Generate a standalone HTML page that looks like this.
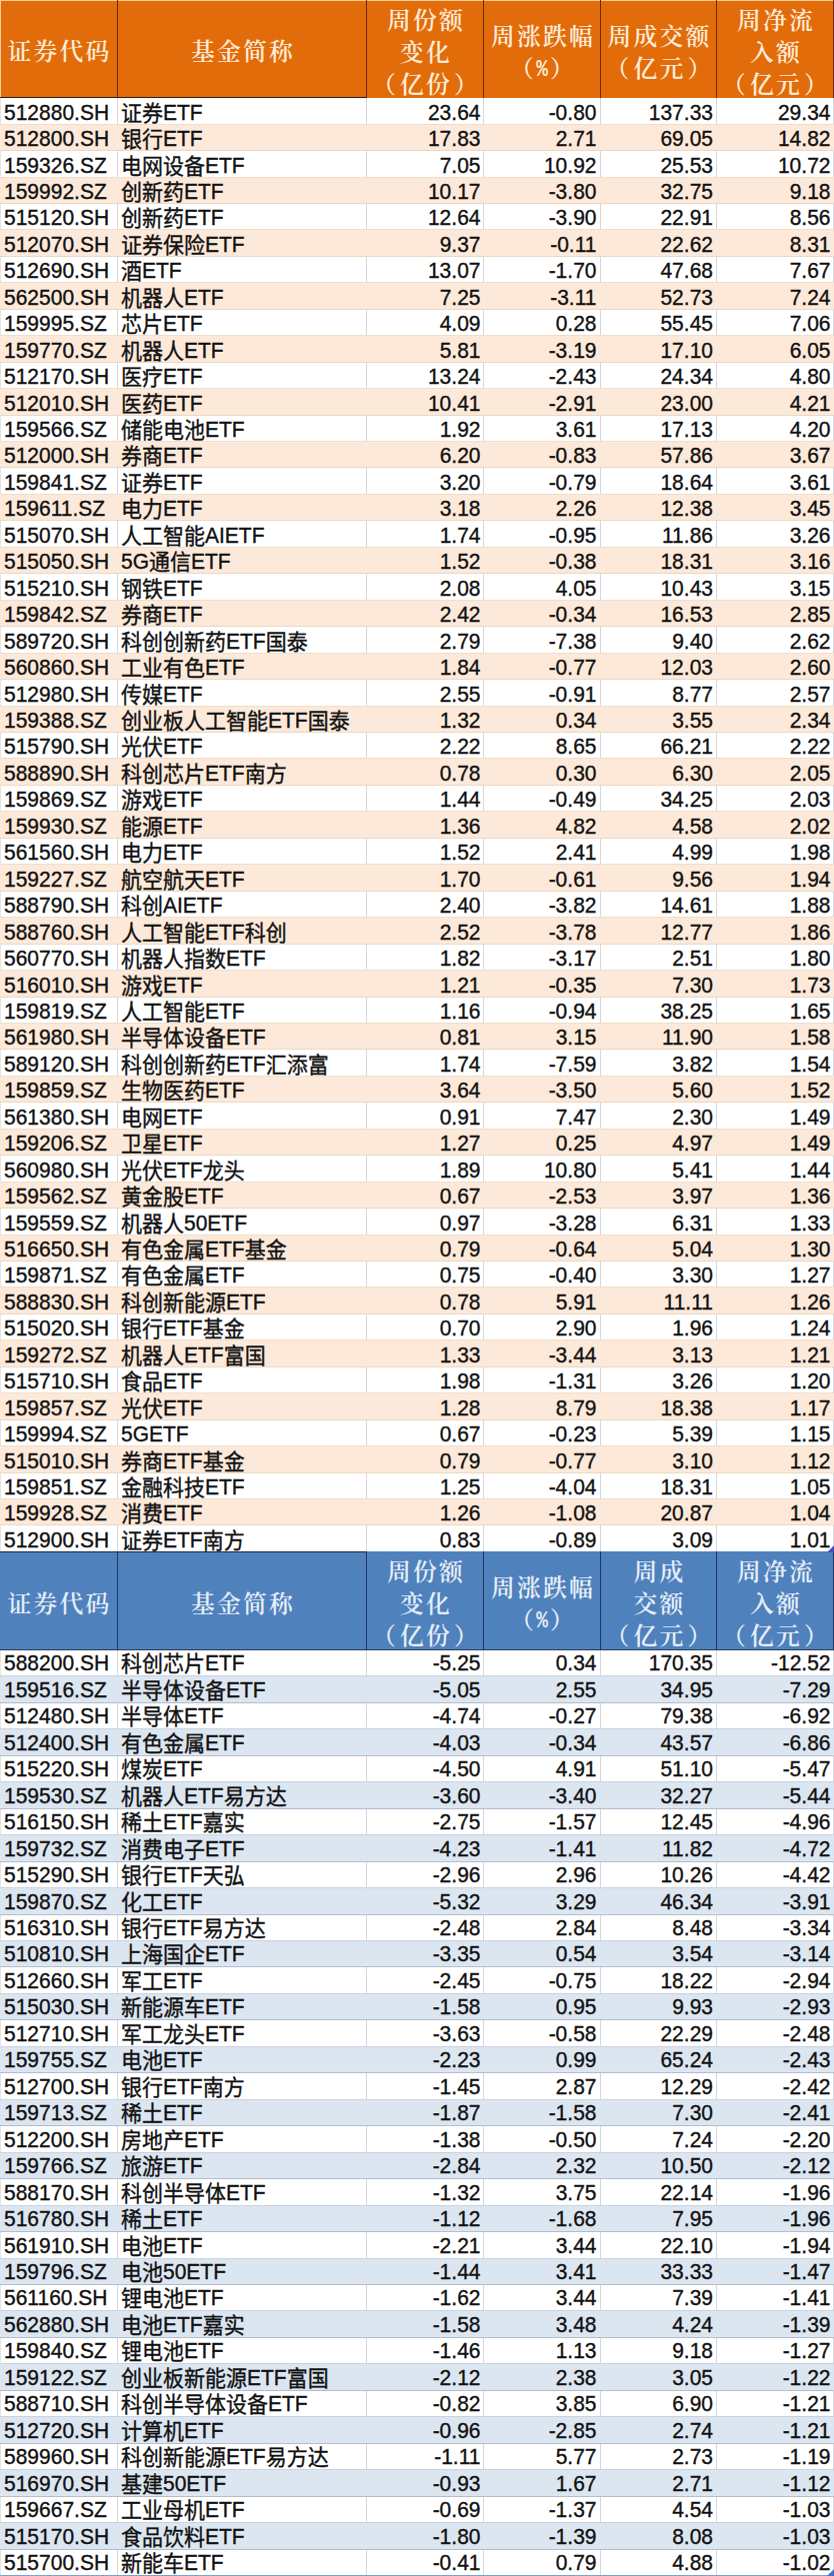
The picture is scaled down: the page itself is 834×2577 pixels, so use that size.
<!DOCTYPE html>
<html lang="zh-CN"><head><meta charset="utf-8"><title>ETF</title><style>
*{margin:0;padding:0;box-sizing:border-box}
html,body{width:834px;height:2577px;background:#fff;overflow:hidden}
body{position:relative;font-family:"Liberation Sans","Noto Sans CJK SC",sans-serif;font-size:21px;line-height:26px;color:#111}
.r{position:absolute;left:0;width:834px;display:flex;background:#fff;box-shadow:inset 1px 0 0 #e2e4ea}
.r.o{background:#fde9d9}
.r.b{background:#dce6f1}
.c{height:100%;white-space:nowrap;overflow:hidden;display:flex;align-items:center;border-right:1px solid #d8d6dc}
.r.o .c,.r.b .c{border-right-color:transparent}
.r.o{box-shadow:inset 0 1px 0 #eedfcb,inset 0 -1px 0 #e9d9c6}
.r.b{box-shadow:inset 0 1px 0 #c9d3e0,inset 0 -1px 0 #b3becd}
.r .c{padding-top:2px;-webkit-text-stroke:0.35px #111}
.r.u .c{padding-top:0}
.s{display:inline-block;transform:scaleY(1.055);transform-origin:50% 55%}
.z{position:relative;top:1px}
.c.t{justify-content:flex-start;padding-left:4px}
.c.t2{padding-left:3px}
.c.n{justify-content:flex-end;padding-right:2.5px}
.c.n3{padding-right:3.5px}.c.n4{padding-right:3px}
.h{position:absolute;left:0;width:834px;display:flex;font-family:"Noto Serif CJK SC","Liberation Serif",serif;font-size:23.8px;font-weight:600;line-height:32px;letter-spacing:2.2px;text-align:center}
.h .c{justify-content:center;padding-top:3px;border-right:1px solid #6b2a05;white-space:normal}
.p{font-family:"Liberation Mono",monospace;font-weight:bold;font-size:23px;line-height:0;display:inline-block;transform:scaleX(0.85);margin:0 -1px;position:relative;top:-1px}
.h .c span{display:block;padding-left:2.2px}.h .c span span{display:inline;padding:0}
.h .c span span.p{display:inline-block;margin:0 -1px}
.lp{margin-right:2px}.rp{margin-left:2px}
.h1{background:#e26b0a;color:#fdebd8;box-shadow:inset 1px 1px 0 #ffcc99}
.h1 .c:nth-child(-n+2){border-bottom:1px solid #3a1804}
.h2{background:#4f81bd;color:#e6eef7;border-bottom:1px solid #2a3f5c}
.h2 .c{border-right-color:#1f3560}
.h2 .c:nth-child(-n+2){border-top:1px solid #1c2a44}
.mk{position:absolute;width:0;height:0;border-left:7px solid transparent;border-bottom:7px solid #4b4db8}
.bl{position:absolute;left:0;top:2576px;width:834px;height:1px;background:#7f9fd4}
</style></head><body>
<div class="h h1" style="top:0px;height:98px"><div class="c" style="width:118px"><span>证券代码</span></div><div class="c" style="width:249px"><span>基金简称</span></div><div class="c" style="width:117px"><span>周份额<br>变化<br><span class="lp">（</span>亿份<span class="rp">）</span></span></div><div class="c" style="width:117px"><span>周涨跌幅<br>（<span class="p">%</span>）</span></div><div class="c" style="width:116px"><span>周成交额<br><span class="lp">（</span>亿元<span class="rp">）</span></span></div><div class="c" style="width:117px"><span>周净流<br>入额<br><span class="lp">（</span>亿元<span class="rp">）</span></span></div></div>
<div class="r " style="top:98px;height:27px"><div class="c t" style="width:118px"><span class="s">512880.SH</span></div><div class="c t t2" style="width:249px"><span class="s"><span class="z">证券</span>ETF</span></div><div class="c n n2" style="width:117px"><span class="s">23.64</span></div><div class="c n n3" style="width:117px"><span class="s">-0.80</span></div><div class="c n n4" style="width:116px"><span class="s">137.33</span></div><div class="c n n5" style="width:117px"><span class="s">29.34</span></div></div>
<div class="r  o" style="top:124px;height:27px;padding-top:1px"><div class="c t" style="width:118px"><span class="s">512800.SH</span></div><div class="c t t2" style="width:249px"><span class="s"><span class="z">银行</span>ETF</span></div><div class="c n n2" style="width:117px"><span class="s">17.83</span></div><div class="c n n3" style="width:117px"><span class="s">2.71</span></div><div class="c n n4" style="width:116px"><span class="s">69.05</span></div><div class="c n n5" style="width:117px"><span class="s">14.82</span></div></div>
<div class="r " style="top:151px;height:27px"><div class="c t" style="width:118px"><span class="s">159326.SZ</span></div><div class="c t t2" style="width:249px"><span class="s"><span class="z">电网设备</span>ETF</span></div><div class="c n n2" style="width:117px"><span class="s">7.05</span></div><div class="c n n3" style="width:117px"><span class="s">10.92</span></div><div class="c n n4" style="width:116px"><span class="s">25.53</span></div><div class="c n n5" style="width:117px"><span class="s">10.72</span></div></div>
<div class="r  o" style="top:177px;height:27px;padding-top:1px"><div class="c t" style="width:118px"><span class="s">159992.SZ</span></div><div class="c t t2" style="width:249px"><span class="s"><span class="z">创新药</span>ETF</span></div><div class="c n n2" style="width:117px"><span class="s">10.17</span></div><div class="c n n3" style="width:117px"><span class="s">-3.80</span></div><div class="c n n4" style="width:116px"><span class="s">32.75</span></div><div class="c n n5" style="width:117px"><span class="s">9.18</span></div></div>
<div class="r " style="top:204px;height:26px"><div class="c t" style="width:118px"><span class="s">515120.SH</span></div><div class="c t t2" style="width:249px"><span class="s"><span class="z">创新药</span>ETF</span></div><div class="c n n2" style="width:117px"><span class="s">12.64</span></div><div class="c n n3" style="width:117px"><span class="s">-3.90</span></div><div class="c n n4" style="width:116px"><span class="s">22.91</span></div><div class="c n n5" style="width:117px"><span class="s">8.56</span></div></div>
<div class="r  o" style="top:229px;height:28px;padding-top:1px"><div class="c t" style="width:118px"><span class="s">512070.SH</span></div><div class="c t t2" style="width:249px"><span class="s"><span class="z">证券保险</span>ETF</span></div><div class="c n n2" style="width:117px"><span class="s">9.37</span></div><div class="c n n3" style="width:117px"><span class="s">-0.11</span></div><div class="c n n4" style="width:116px"><span class="s">22.62</span></div><div class="c n n5" style="width:117px"><span class="s">8.31</span></div></div>
<div class="r " style="top:257px;height:26px"><div class="c t" style="width:118px"><span class="s">512690.SH</span></div><div class="c t t2" style="width:249px"><span class="s"><span class="z">酒</span>ETF</span></div><div class="c n n2" style="width:117px"><span class="s">13.07</span></div><div class="c n n3" style="width:117px"><span class="s">-1.70</span></div><div class="c n n4" style="width:116px"><span class="s">47.68</span></div><div class="c n n5" style="width:117px"><span class="s">7.67</span></div></div>
<div class="r  o" style="top:282px;height:28px;padding-top:1px"><div class="c t" style="width:118px"><span class="s">562500.SH</span></div><div class="c t t2" style="width:249px"><span class="s"><span class="z">机器人</span>ETF</span></div><div class="c n n2" style="width:117px"><span class="s">7.25</span></div><div class="c n n3" style="width:117px"><span class="s">-3.11</span></div><div class="c n n4" style="width:116px"><span class="s">52.73</span></div><div class="c n n5" style="width:117px"><span class="s">7.24</span></div></div>
<div class="r " style="top:310px;height:26px"><div class="c t" style="width:118px"><span class="s">159995.SZ</span></div><div class="c t t2" style="width:249px"><span class="s"><span class="z">芯片</span>ETF</span></div><div class="c n n2" style="width:117px"><span class="s">4.09</span></div><div class="c n n3" style="width:117px"><span class="s">0.28</span></div><div class="c n n4" style="width:116px"><span class="s">55.45</span></div><div class="c n n5" style="width:117px"><span class="s">7.06</span></div></div>
<div class="r  o" style="top:335px;height:28px;padding-top:1px"><div class="c t" style="width:118px"><span class="s">159770.SZ</span></div><div class="c t t2" style="width:249px"><span class="s"><span class="z">机器人</span>ETF</span></div><div class="c n n2" style="width:117px"><span class="s">5.81</span></div><div class="c n n3" style="width:117px"><span class="s">-3.19</span></div><div class="c n n4" style="width:116px"><span class="s">17.10</span></div><div class="c n n5" style="width:117px"><span class="s">6.05</span></div></div>
<div class="r " style="top:363px;height:26px"><div class="c t" style="width:118px"><span class="s">512170.SH</span></div><div class="c t t2" style="width:249px"><span class="s"><span class="z">医疗</span>ETF</span></div><div class="c n n2" style="width:117px"><span class="s">13.24</span></div><div class="c n n3" style="width:117px"><span class="s">-2.43</span></div><div class="c n n4" style="width:116px"><span class="s">24.34</span></div><div class="c n n5" style="width:117px"><span class="s">4.80</span></div></div>
<div class="r  o" style="top:388px;height:28px;padding-top:1px"><div class="c t" style="width:118px"><span class="s">512010.SH</span></div><div class="c t t2" style="width:249px"><span class="s"><span class="z">医药</span>ETF</span></div><div class="c n n2" style="width:117px"><span class="s">10.41</span></div><div class="c n n3" style="width:117px"><span class="s">-2.91</span></div><div class="c n n4" style="width:116px"><span class="s">23.00</span></div><div class="c n n5" style="width:117px"><span class="s">4.21</span></div></div>
<div class="r " style="top:416px;height:26px"><div class="c t" style="width:118px"><span class="s">159566.SZ</span></div><div class="c t t2" style="width:249px"><span class="s"><span class="z">储能电池</span>ETF</span></div><div class="c n n2" style="width:117px"><span class="s">1.92</span></div><div class="c n n3" style="width:117px"><span class="s">3.61</span></div><div class="c n n4" style="width:116px"><span class="s">17.13</span></div><div class="c n n5" style="width:117px"><span class="s">4.20</span></div></div>
<div class="r  o" style="top:441px;height:27px;padding-top:1px"><div class="c t" style="width:118px"><span class="s">512000.SH</span></div><div class="c t t2" style="width:249px"><span class="s"><span class="z">券商</span>ETF</span></div><div class="c n n2" style="width:117px"><span class="s">6.20</span></div><div class="c n n3" style="width:117px"><span class="s">-0.83</span></div><div class="c n n4" style="width:116px"><span class="s">57.86</span></div><div class="c n n5" style="width:117px"><span class="s">3.67</span></div></div>
<div class="r " style="top:468px;height:27px"><div class="c t" style="width:118px"><span class="s">159841.SZ</span></div><div class="c t t2" style="width:249px"><span class="s"><span class="z">证券</span>ETF</span></div><div class="c n n2" style="width:117px"><span class="s">3.20</span></div><div class="c n n3" style="width:117px"><span class="s">-0.79</span></div><div class="c n n4" style="width:116px"><span class="s">18.64</span></div><div class="c n n5" style="width:117px"><span class="s">3.61</span></div></div>
<div class="r  o" style="top:494px;height:27px;padding-top:1px"><div class="c t" style="width:118px"><span class="s">159611.SZ</span></div><div class="c t t2" style="width:249px"><span class="s"><span class="z">电力</span>ETF</span></div><div class="c n n2" style="width:117px"><span class="s">3.18</span></div><div class="c n n3" style="width:117px"><span class="s">2.26</span></div><div class="c n n4" style="width:116px"><span class="s">12.38</span></div><div class="c n n5" style="width:117px"><span class="s">3.45</span></div></div>
<div class="r " style="top:521px;height:27px"><div class="c t" style="width:118px"><span class="s">515070.SH</span></div><div class="c t t2" style="width:249px"><span class="s"><span class="z">人工智能</span>AIETF</span></div><div class="c n n2" style="width:117px"><span class="s">1.74</span></div><div class="c n n3" style="width:117px"><span class="s">-0.95</span></div><div class="c n n4" style="width:116px"><span class="s">11.86</span></div><div class="c n n5" style="width:117px"><span class="s">3.26</span></div></div>
<div class="r  o" style="top:547px;height:27px;padding-top:1px"><div class="c t" style="width:118px"><span class="s">515050.SH</span></div><div class="c t t2" style="width:249px"><span class="s">5G<span class="z">通信</span>ETF</span></div><div class="c n n2" style="width:117px"><span class="s">1.52</span></div><div class="c n n3" style="width:117px"><span class="s">-0.38</span></div><div class="c n n4" style="width:116px"><span class="s">18.31</span></div><div class="c n n5" style="width:117px"><span class="s">3.16</span></div></div>
<div class="r " style="top:574px;height:27px"><div class="c t" style="width:118px"><span class="s">515210.SH</span></div><div class="c t t2" style="width:249px"><span class="s"><span class="z">钢铁</span>ETF</span></div><div class="c n n2" style="width:117px"><span class="s">2.08</span></div><div class="c n n3" style="width:117px"><span class="s">4.05</span></div><div class="c n n4" style="width:116px"><span class="s">10.43</span></div><div class="c n n5" style="width:117px"><span class="s">3.15</span></div></div>
<div class="r  o" style="top:600px;height:27px;padding-top:1px"><div class="c t" style="width:118px"><span class="s">159842.SZ</span></div><div class="c t t2" style="width:249px"><span class="s"><span class="z">券商</span>ETF</span></div><div class="c n n2" style="width:117px"><span class="s">2.42</span></div><div class="c n n3" style="width:117px"><span class="s">-0.34</span></div><div class="c n n4" style="width:116px"><span class="s">16.53</span></div><div class="c n n5" style="width:117px"><span class="s">2.85</span></div></div>
<div class="r " style="top:627px;height:27px"><div class="c t" style="width:118px"><span class="s">589720.SH</span></div><div class="c t t2" style="width:249px"><span class="s"><span class="z">科创创新药</span>ETF<span class="z">国泰</span></span></div><div class="c n n2" style="width:117px"><span class="s">2.79</span></div><div class="c n n3" style="width:117px"><span class="s">-7.38</span></div><div class="c n n4" style="width:116px"><span class="s">9.40</span></div><div class="c n n5" style="width:117px"><span class="s">2.62</span></div></div>
<div class="r  o" style="top:653px;height:27px;padding-top:1px"><div class="c t" style="width:118px"><span class="s">560860.SH</span></div><div class="c t t2" style="width:249px"><span class="s"><span class="z">工业有色</span>ETF</span></div><div class="c n n2" style="width:117px"><span class="s">1.84</span></div><div class="c n n3" style="width:117px"><span class="s">-0.77</span></div><div class="c n n4" style="width:116px"><span class="s">12.03</span></div><div class="c n n5" style="width:117px"><span class="s">2.60</span></div></div>
<div class="r " style="top:680px;height:27px"><div class="c t" style="width:118px"><span class="s">512980.SH</span></div><div class="c t t2" style="width:249px"><span class="s"><span class="z">传媒</span>ETF</span></div><div class="c n n2" style="width:117px"><span class="s">2.55</span></div><div class="c n n3" style="width:117px"><span class="s">-0.91</span></div><div class="c n n4" style="width:116px"><span class="s">8.77</span></div><div class="c n n5" style="width:117px"><span class="s">2.57</span></div></div>
<div class="r  o" style="top:706px;height:27px;padding-top:1px"><div class="c t" style="width:118px"><span class="s">159388.SZ</span></div><div class="c t t2" style="width:249px"><span class="s"><span class="z">创业板人工智能</span>ETF<span class="z">国泰</span></span></div><div class="c n n2" style="width:117px"><span class="s">1.32</span></div><div class="c n n3" style="width:117px"><span class="s">0.34</span></div><div class="c n n4" style="width:116px"><span class="s">3.55</span></div><div class="c n n5" style="width:117px"><span class="s">2.34</span></div></div>
<div class="r " style="top:733px;height:26px"><div class="c t" style="width:118px"><span class="s">515790.SH</span></div><div class="c t t2" style="width:249px"><span class="s"><span class="z">光伏</span>ETF</span></div><div class="c n n2" style="width:117px"><span class="s">2.22</span></div><div class="c n n3" style="width:117px"><span class="s">8.65</span></div><div class="c n n4" style="width:116px"><span class="s">66.21</span></div><div class="c n n5" style="width:117px"><span class="s">2.22</span></div></div>
<div class="r  o" style="top:758px;height:28px;padding-top:1px"><div class="c t" style="width:118px"><span class="s">588890.SH</span></div><div class="c t t2" style="width:249px"><span class="s"><span class="z">科创芯片</span>ETF<span class="z">南方</span></span></div><div class="c n n2" style="width:117px"><span class="s">0.78</span></div><div class="c n n3" style="width:117px"><span class="s">0.30</span></div><div class="c n n4" style="width:116px"><span class="s">6.30</span></div><div class="c n n5" style="width:117px"><span class="s">2.05</span></div></div>
<div class="r " style="top:786px;height:26px"><div class="c t" style="width:118px"><span class="s">159869.SZ</span></div><div class="c t t2" style="width:249px"><span class="s"><span class="z">游戏</span>ETF</span></div><div class="c n n2" style="width:117px"><span class="s">1.44</span></div><div class="c n n3" style="width:117px"><span class="s">-0.49</span></div><div class="c n n4" style="width:116px"><span class="s">34.25</span></div><div class="c n n5" style="width:117px"><span class="s">2.03</span></div></div>
<div class="r  o" style="top:811px;height:28px;padding-top:1px"><div class="c t" style="width:118px"><span class="s">159930.SZ</span></div><div class="c t t2" style="width:249px"><span class="s"><span class="z">能源</span>ETF</span></div><div class="c n n2" style="width:117px"><span class="s">1.36</span></div><div class="c n n3" style="width:117px"><span class="s">4.82</span></div><div class="c n n4" style="width:116px"><span class="s">4.58</span></div><div class="c n n5" style="width:117px"><span class="s">2.02</span></div></div>
<div class="r " style="top:839px;height:26px"><div class="c t" style="width:118px"><span class="s">561560.SH</span></div><div class="c t t2" style="width:249px"><span class="s"><span class="z">电力</span>ETF</span></div><div class="c n n2" style="width:117px"><span class="s">1.52</span></div><div class="c n n3" style="width:117px"><span class="s">2.41</span></div><div class="c n n4" style="width:116px"><span class="s">4.99</span></div><div class="c n n5" style="width:117px"><span class="s">1.98</span></div></div>
<div class="r  o" style="top:864px;height:28px;padding-top:1px"><div class="c t" style="width:118px"><span class="s">159227.SZ</span></div><div class="c t t2" style="width:249px"><span class="s"><span class="z">航空航天</span>ETF</span></div><div class="c n n2" style="width:117px"><span class="s">1.70</span></div><div class="c n n3" style="width:117px"><span class="s">-0.61</span></div><div class="c n n4" style="width:116px"><span class="s">9.56</span></div><div class="c n n5" style="width:117px"><span class="s">1.94</span></div></div>
<div class="r " style="top:892px;height:26px"><div class="c t" style="width:118px"><span class="s">588790.SH</span></div><div class="c t t2" style="width:249px"><span class="s"><span class="z">科创</span>AIETF</span></div><div class="c n n2" style="width:117px"><span class="s">2.40</span></div><div class="c n n3" style="width:117px"><span class="s">-3.82</span></div><div class="c n n4" style="width:116px"><span class="s">14.61</span></div><div class="c n n5" style="width:117px"><span class="s">1.88</span></div></div>
<div class="r  o" style="top:917px;height:28px;padding-top:1px"><div class="c t" style="width:118px"><span class="s">588760.SH</span></div><div class="c t t2" style="width:249px"><span class="s"><span class="z">人工智能</span>ETF<span class="z">科创</span></span></div><div class="c n n2" style="width:117px"><span class="s">2.52</span></div><div class="c n n3" style="width:117px"><span class="s">-3.78</span></div><div class="c n n4" style="width:116px"><span class="s">12.77</span></div><div class="c n n5" style="width:117px"><span class="s">1.86</span></div></div>
<div class="r " style="top:945px;height:26px"><div class="c t" style="width:118px"><span class="s">560770.SH</span></div><div class="c t t2" style="width:249px"><span class="s"><span class="z">机器人指数</span>ETF</span></div><div class="c n n2" style="width:117px"><span class="s">1.82</span></div><div class="c n n3" style="width:117px"><span class="s">-3.17</span></div><div class="c n n4" style="width:116px"><span class="s">2.51</span></div><div class="c n n5" style="width:117px"><span class="s">1.80</span></div></div>
<div class="r  o" style="top:970px;height:28px;padding-top:1px"><div class="c t" style="width:118px"><span class="s">516010.SH</span></div><div class="c t t2" style="width:249px"><span class="s"><span class="z">游戏</span>ETF</span></div><div class="c n n2" style="width:117px"><span class="s">1.21</span></div><div class="c n n3" style="width:117px"><span class="s">-0.35</span></div><div class="c n n4" style="width:116px"><span class="s">7.30</span></div><div class="c n n5" style="width:117px"><span class="s">1.73</span></div></div>
<div class="r " style="top:998px;height:26px"><div class="c t" style="width:118px"><span class="s">159819.SZ</span></div><div class="c t t2" style="width:249px"><span class="s"><span class="z">人工智能</span>ETF</span></div><div class="c n n2" style="width:117px"><span class="s">1.16</span></div><div class="c n n3" style="width:117px"><span class="s">-0.94</span></div><div class="c n n4" style="width:116px"><span class="s">38.25</span></div><div class="c n n5" style="width:117px"><span class="s">1.65</span></div></div>
<div class="r  o" style="top:1023px;height:27px;padding-top:1px"><div class="c t" style="width:118px"><span class="s">561980.SH</span></div><div class="c t t2" style="width:249px"><span class="s"><span class="z">半导体设备</span>ETF</span></div><div class="c n n2" style="width:117px"><span class="s">0.81</span></div><div class="c n n3" style="width:117px"><span class="s">3.15</span></div><div class="c n n4" style="width:116px"><span class="s">11.90</span></div><div class="c n n5" style="width:117px"><span class="s">1.58</span></div></div>
<div class="r " style="top:1050px;height:27px"><div class="c t" style="width:118px"><span class="s">589120.SH</span></div><div class="c t t2" style="width:249px"><span class="s"><span class="z">科创创新药</span>ETF<span class="z">汇添富</span></span></div><div class="c n n2" style="width:117px"><span class="s">1.74</span></div><div class="c n n3" style="width:117px"><span class="s">-7.59</span></div><div class="c n n4" style="width:116px"><span class="s">3.82</span></div><div class="c n n5" style="width:117px"><span class="s">1.54</span></div></div>
<div class="r  o" style="top:1076px;height:27px;padding-top:1px"><div class="c t" style="width:118px"><span class="s">159859.SZ</span></div><div class="c t t2" style="width:249px"><span class="s"><span class="z">生物医药</span>ETF</span></div><div class="c n n2" style="width:117px"><span class="s">3.64</span></div><div class="c n n3" style="width:117px"><span class="s">-3.50</span></div><div class="c n n4" style="width:116px"><span class="s">5.60</span></div><div class="c n n5" style="width:117px"><span class="s">1.52</span></div></div>
<div class="r " style="top:1103px;height:27px"><div class="c t" style="width:118px"><span class="s">561380.SH</span></div><div class="c t t2" style="width:249px"><span class="s"><span class="z">电网</span>ETF</span></div><div class="c n n2" style="width:117px"><span class="s">0.91</span></div><div class="c n n3" style="width:117px"><span class="s">7.47</span></div><div class="c n n4" style="width:116px"><span class="s">2.30</span></div><div class="c n n5" style="width:117px"><span class="s">1.49</span></div></div>
<div class="r  o" style="top:1129px;height:27px;padding-top:1px"><div class="c t" style="width:118px"><span class="s">159206.SZ</span></div><div class="c t t2" style="width:249px"><span class="s"><span class="z">卫星</span>ETF</span></div><div class="c n n2" style="width:117px"><span class="s">1.27</span></div><div class="c n n3" style="width:117px"><span class="s">0.25</span></div><div class="c n n4" style="width:116px"><span class="s">4.97</span></div><div class="c n n5" style="width:117px"><span class="s">1.49</span></div></div>
<div class="r " style="top:1156px;height:27px"><div class="c t" style="width:118px"><span class="s">560980.SH</span></div><div class="c t t2" style="width:249px"><span class="s"><span class="z">光伏</span>ETF<span class="z">龙头</span></span></div><div class="c n n2" style="width:117px"><span class="s">1.89</span></div><div class="c n n3" style="width:117px"><span class="s">10.80</span></div><div class="c n n4" style="width:116px"><span class="s">5.41</span></div><div class="c n n5" style="width:117px"><span class="s">1.44</span></div></div>
<div class="r  o" style="top:1182px;height:27px;padding-top:1px"><div class="c t" style="width:118px"><span class="s">159562.SZ</span></div><div class="c t t2" style="width:249px"><span class="s"><span class="z">黄金股</span>ETF</span></div><div class="c n n2" style="width:117px"><span class="s">0.67</span></div><div class="c n n3" style="width:117px"><span class="s">-2.53</span></div><div class="c n n4" style="width:116px"><span class="s">3.97</span></div><div class="c n n5" style="width:117px"><span class="s">1.36</span></div></div>
<div class="r " style="top:1209px;height:27px"><div class="c t" style="width:118px"><span class="s">159559.SZ</span></div><div class="c t t2" style="width:249px"><span class="s"><span class="z">机器人</span>50ETF</span></div><div class="c n n2" style="width:117px"><span class="s">0.97</span></div><div class="c n n3" style="width:117px"><span class="s">-3.28</span></div><div class="c n n4" style="width:116px"><span class="s">6.31</span></div><div class="c n n5" style="width:117px"><span class="s">1.33</span></div></div>
<div class="r  o" style="top:1235px;height:27px;padding-top:1px"><div class="c t" style="width:118px"><span class="s">516650.SH</span></div><div class="c t t2" style="width:249px"><span class="s"><span class="z">有色金属</span>ETF<span class="z">基金</span></span></div><div class="c n n2" style="width:117px"><span class="s">0.79</span></div><div class="c n n3" style="width:117px"><span class="s">-0.64</span></div><div class="c n n4" style="width:116px"><span class="s">5.04</span></div><div class="c n n5" style="width:117px"><span class="s">1.30</span></div></div>
<div class="r " style="top:1262px;height:26px"><div class="c t" style="width:118px"><span class="s">159871.SZ</span></div><div class="c t t2" style="width:249px"><span class="s"><span class="z">有色金属</span>ETF</span></div><div class="c n n2" style="width:117px"><span class="s">0.75</span></div><div class="c n n3" style="width:117px"><span class="s">-0.40</span></div><div class="c n n4" style="width:116px"><span class="s">3.30</span></div><div class="c n n5" style="width:117px"><span class="s">1.27</span></div></div>
<div class="r  o" style="top:1287px;height:28px;padding-top:1px"><div class="c t" style="width:118px"><span class="s">588830.SH</span></div><div class="c t t2" style="width:249px"><span class="s"><span class="z">科创新能源</span>ETF</span></div><div class="c n n2" style="width:117px"><span class="s">0.78</span></div><div class="c n n3" style="width:117px"><span class="s">5.91</span></div><div class="c n n4" style="width:116px"><span class="s">11.11</span></div><div class="c n n5" style="width:117px"><span class="s">1.26</span></div></div>
<div class="r " style="top:1315px;height:26px"><div class="c t" style="width:118px"><span class="s">515020.SH</span></div><div class="c t t2" style="width:249px"><span class="s"><span class="z">银行</span>ETF<span class="z">基金</span></span></div><div class="c n n2" style="width:117px"><span class="s">0.70</span></div><div class="c n n3" style="width:117px"><span class="s">2.90</span></div><div class="c n n4" style="width:116px"><span class="s">1.96</span></div><div class="c n n5" style="width:117px"><span class="s">1.24</span></div></div>
<div class="r  o" style="top:1340px;height:28px;padding-top:1px"><div class="c t" style="width:118px"><span class="s">159272.SZ</span></div><div class="c t t2" style="width:249px"><span class="s"><span class="z">机器人</span>ETF<span class="z">富国</span></span></div><div class="c n n2" style="width:117px"><span class="s">1.33</span></div><div class="c n n3" style="width:117px"><span class="s">-3.44</span></div><div class="c n n4" style="width:116px"><span class="s">3.13</span></div><div class="c n n5" style="width:117px"><span class="s">1.21</span></div></div>
<div class="r " style="top:1368px;height:26px"><div class="c t" style="width:118px"><span class="s">515710.SH</span></div><div class="c t t2" style="width:249px"><span class="s"><span class="z">食品</span>ETF</span></div><div class="c n n2" style="width:117px"><span class="s">1.98</span></div><div class="c n n3" style="width:117px"><span class="s">-1.31</span></div><div class="c n n4" style="width:116px"><span class="s">3.26</span></div><div class="c n n5" style="width:117px"><span class="s">1.20</span></div></div>
<div class="r  o" style="top:1393px;height:28px;padding-top:1px"><div class="c t" style="width:118px"><span class="s">159857.SZ</span></div><div class="c t t2" style="width:249px"><span class="s"><span class="z">光伏</span>ETF</span></div><div class="c n n2" style="width:117px"><span class="s">1.28</span></div><div class="c n n3" style="width:117px"><span class="s">8.79</span></div><div class="c n n4" style="width:116px"><span class="s">18.38</span></div><div class="c n n5" style="width:117px"><span class="s">1.17</span></div></div>
<div class="r " style="top:1421px;height:26px"><div class="c t" style="width:118px"><span class="s">159994.SZ</span></div><div class="c t t2" style="width:249px"><span class="s">5GETF</span></div><div class="c n n2" style="width:117px"><span class="s">0.67</span></div><div class="c n n3" style="width:117px"><span class="s">-0.23</span></div><div class="c n n4" style="width:116px"><span class="s">5.39</span></div><div class="c n n5" style="width:117px"><span class="s">1.15</span></div></div>
<div class="r  o" style="top:1446px;height:28px;padding-top:1px"><div class="c t" style="width:118px"><span class="s">515010.SH</span></div><div class="c t t2" style="width:249px"><span class="s"><span class="z">券商</span>ETF<span class="z">基金</span></span></div><div class="c n n2" style="width:117px"><span class="s">0.79</span></div><div class="c n n3" style="width:117px"><span class="s">-0.77</span></div><div class="c n n4" style="width:116px"><span class="s">3.10</span></div><div class="c n n5" style="width:117px"><span class="s">1.12</span></div></div>
<div class="r " style="top:1474px;height:26px"><div class="c t" style="width:118px"><span class="s">159851.SZ</span></div><div class="c t t2" style="width:249px"><span class="s"><span class="z">金融科技</span>ETF</span></div><div class="c n n2" style="width:117px"><span class="s">1.25</span></div><div class="c n n3" style="width:117px"><span class="s">-4.04</span></div><div class="c n n4" style="width:116px"><span class="s">18.31</span></div><div class="c n n5" style="width:117px"><span class="s">1.05</span></div></div>
<div class="r  o" style="top:1499px;height:27px;padding-top:1px"><div class="c t" style="width:118px"><span class="s">159928.SZ</span></div><div class="c t t2" style="width:249px"><span class="s"><span class="z">消费</span>ETF</span></div><div class="c n n2" style="width:117px"><span class="s">1.26</span></div><div class="c n n3" style="width:117px"><span class="s">-1.08</span></div><div class="c n n4" style="width:116px"><span class="s">20.87</span></div><div class="c n n5" style="width:117px"><span class="s">1.04</span></div></div>
<div class="r " style="top:1526px;height:27px"><div class="c t" style="width:118px"><span class="s">512900.SH</span></div><div class="c t t2" style="width:249px"><span class="s"><span class="z">证券</span>ETF<span class="z">南方</span></span></div><div class="c n n2" style="width:117px"><span class="s">0.83</span></div><div class="c n n3" style="width:117px"><span class="s">-0.89</span></div><div class="c n n4" style="width:116px"><span class="s">3.09</span></div><div class="c n n5" style="width:117px"><span class="s">1.01</span></div></div>
<div class="h h2" style="top:1552px;height:99px"><div class="c" style="width:118px"><span>证券代码</span></div><div class="c" style="width:249px"><span>基金简称</span></div><div class="c" style="width:117px"><span>周份额<br>变化<br><span class="lp">（</span>亿份<span class="rp">）</span></span></div><div class="c" style="width:117px"><span>周涨跌幅<br>（<span class="p">%</span>）</span></div><div class="c" style="width:116px"><span>周成<br>交额<br><span class="lp">（</span>亿元<span class="rp">）</span></span></div><div class="c" style="width:117px"><span>周净流<br>入额<br><span class="lp">（</span>亿元<span class="rp">）</span></span></div></div>
<div class="r u" style="top:1651px;height:26px"><div class="c t" style="width:118px"><span class="s">588200.SH</span></div><div class="c t t2" style="width:249px"><span class="s"><span class="z">科创芯片</span>ETF</span></div><div class="c n n2" style="width:117px"><span class="s">-5.25</span></div><div class="c n n3" style="width:117px"><span class="s">0.34</span></div><div class="c n n4" style="width:116px"><span class="s">170.35</span></div><div class="c n n5" style="width:117px"><span class="s">-12.52</span></div></div>
<div class="r u b" style="top:1676px;height:28px;padding-top:1px"><div class="c t" style="width:118px"><span class="s">159516.SZ</span></div><div class="c t t2" style="width:249px"><span class="s"><span class="z">半导体设备</span>ETF</span></div><div class="c n n2" style="width:117px"><span class="s">-5.05</span></div><div class="c n n3" style="width:117px"><span class="s">2.55</span></div><div class="c n n4" style="width:116px"><span class="s">34.95</span></div><div class="c n n5" style="width:117px"><span class="s">-7.29</span></div></div>
<div class="r u" style="top:1704px;height:26px"><div class="c t" style="width:118px"><span class="s">512480.SH</span></div><div class="c t t2" style="width:249px"><span class="s"><span class="z">半导体</span>ETF</span></div><div class="c n n2" style="width:117px"><span class="s">-4.74</span></div><div class="c n n3" style="width:117px"><span class="s">-0.27</span></div><div class="c n n4" style="width:116px"><span class="s">79.38</span></div><div class="c n n5" style="width:117px"><span class="s">-6.92</span></div></div>
<div class="r u b" style="top:1729px;height:28px;padding-top:1px"><div class="c t" style="width:118px"><span class="s">512400.SH</span></div><div class="c t t2" style="width:249px"><span class="s"><span class="z">有色金属</span>ETF</span></div><div class="c n n2" style="width:117px"><span class="s">-4.03</span></div><div class="c n n3" style="width:117px"><span class="s">-0.34</span></div><div class="c n n4" style="width:116px"><span class="s">43.57</span></div><div class="c n n5" style="width:117px"><span class="s">-6.86</span></div></div>
<div class="r u" style="top:1757px;height:26px"><div class="c t" style="width:118px"><span class="s">515220.SH</span></div><div class="c t t2" style="width:249px"><span class="s"><span class="z">煤炭</span>ETF</span></div><div class="c n n2" style="width:117px"><span class="s">-4.50</span></div><div class="c n n3" style="width:117px"><span class="s">4.91</span></div><div class="c n n4" style="width:116px"><span class="s">51.10</span></div><div class="c n n5" style="width:117px"><span class="s">-5.47</span></div></div>
<div class="r u b" style="top:1782px;height:28px;padding-top:1px"><div class="c t" style="width:118px"><span class="s">159530.SZ</span></div><div class="c t t2" style="width:249px"><span class="s"><span class="z">机器人</span>ETF<span class="z">易方达</span></span></div><div class="c n n2" style="width:117px"><span class="s">-3.60</span></div><div class="c n n3" style="width:117px"><span class="s">-3.40</span></div><div class="c n n4" style="width:116px"><span class="s">32.27</span></div><div class="c n n5" style="width:117px"><span class="s">-5.44</span></div></div>
<div class="r u" style="top:1810px;height:26px"><div class="c t" style="width:118px"><span class="s">516150.SH</span></div><div class="c t t2" style="width:249px"><span class="s"><span class="z">稀土</span>ETF<span class="z">嘉实</span></span></div><div class="c n n2" style="width:117px"><span class="s">-2.75</span></div><div class="c n n3" style="width:117px"><span class="s">-1.57</span></div><div class="c n n4" style="width:116px"><span class="s">12.45</span></div><div class="c n n5" style="width:117px"><span class="s">-4.96</span></div></div>
<div class="r u b" style="top:1835px;height:28px;padding-top:1px"><div class="c t" style="width:118px"><span class="s">159732.SZ</span></div><div class="c t t2" style="width:249px"><span class="s"><span class="z">消费电子</span>ETF</span></div><div class="c n n2" style="width:117px"><span class="s">-4.23</span></div><div class="c n n3" style="width:117px"><span class="s">-1.41</span></div><div class="c n n4" style="width:116px"><span class="s">11.82</span></div><div class="c n n5" style="width:117px"><span class="s">-4.72</span></div></div>
<div class="r u" style="top:1863px;height:26px"><div class="c t" style="width:118px"><span class="s">515290.SH</span></div><div class="c t t2" style="width:249px"><span class="s"><span class="z">银行</span>ETF<span class="z">天弘</span></span></div><div class="c n n2" style="width:117px"><span class="s">-2.96</span></div><div class="c n n3" style="width:117px"><span class="s">2.96</span></div><div class="c n n4" style="width:116px"><span class="s">10.26</span></div><div class="c n n5" style="width:117px"><span class="s">-4.42</span></div></div>
<div class="r u b" style="top:1888px;height:28px;padding-top:1px"><div class="c t" style="width:118px"><span class="s">159870.SZ</span></div><div class="c t t2" style="width:249px"><span class="s"><span class="z">化工</span>ETF</span></div><div class="c n n2" style="width:117px"><span class="s">-5.32</span></div><div class="c n n3" style="width:117px"><span class="s">3.29</span></div><div class="c n n4" style="width:116px"><span class="s">46.34</span></div><div class="c n n5" style="width:117px"><span class="s">-3.91</span></div></div>
<div class="r u" style="top:1916px;height:26px"><div class="c t" style="width:118px"><span class="s">516310.SH</span></div><div class="c t t2" style="width:249px"><span class="s"><span class="z">银行</span>ETF<span class="z">易方达</span></span></div><div class="c n n2" style="width:117px"><span class="s">-2.48</span></div><div class="c n n3" style="width:117px"><span class="s">2.84</span></div><div class="c n n4" style="width:116px"><span class="s">8.48</span></div><div class="c n n5" style="width:117px"><span class="s">-3.34</span></div></div>
<div class="r u b" style="top:1941px;height:27px;padding-top:1px"><div class="c t" style="width:118px"><span class="s">510810.SH</span></div><div class="c t t2" style="width:249px"><span class="s"><span class="z">上海国企</span>ETF</span></div><div class="c n n2" style="width:117px"><span class="s">-3.35</span></div><div class="c n n3" style="width:117px"><span class="s">0.54</span></div><div class="c n n4" style="width:116px"><span class="s">3.54</span></div><div class="c n n5" style="width:117px"><span class="s">-3.14</span></div></div>
<div class="r u" style="top:1968px;height:27px"><div class="c t" style="width:118px"><span class="s">512660.SH</span></div><div class="c t t2" style="width:249px"><span class="s"><span class="z">军工</span>ETF</span></div><div class="c n n2" style="width:117px"><span class="s">-2.45</span></div><div class="c n n3" style="width:117px"><span class="s">-0.75</span></div><div class="c n n4" style="width:116px"><span class="s">18.22</span></div><div class="c n n5" style="width:117px"><span class="s">-2.94</span></div></div>
<div class="r u b" style="top:1994px;height:27px;padding-top:1px"><div class="c t" style="width:118px"><span class="s">515030.SH</span></div><div class="c t t2" style="width:249px"><span class="s"><span class="z">新能源车</span>ETF</span></div><div class="c n n2" style="width:117px"><span class="s">-1.58</span></div><div class="c n n3" style="width:117px"><span class="s">0.95</span></div><div class="c n n4" style="width:116px"><span class="s">9.93</span></div><div class="c n n5" style="width:117px"><span class="s">-2.93</span></div></div>
<div class="r u" style="top:2021px;height:27px"><div class="c t" style="width:118px"><span class="s">512710.SH</span></div><div class="c t t2" style="width:249px"><span class="s"><span class="z">军工龙头</span>ETF</span></div><div class="c n n2" style="width:117px"><span class="s">-3.63</span></div><div class="c n n3" style="width:117px"><span class="s">-0.58</span></div><div class="c n n4" style="width:116px"><span class="s">22.29</span></div><div class="c n n5" style="width:117px"><span class="s">-2.48</span></div></div>
<div class="r u b" style="top:2047px;height:27px;padding-top:1px"><div class="c t" style="width:118px"><span class="s">159755.SZ</span></div><div class="c t t2" style="width:249px"><span class="s"><span class="z">电池</span>ETF</span></div><div class="c n n2" style="width:117px"><span class="s">-2.23</span></div><div class="c n n3" style="width:117px"><span class="s">0.99</span></div><div class="c n n4" style="width:116px"><span class="s">65.24</span></div><div class="c n n5" style="width:117px"><span class="s">-2.43</span></div></div>
<div class="r u" style="top:2074px;height:27px"><div class="c t" style="width:118px"><span class="s">512700.SH</span></div><div class="c t t2" style="width:249px"><span class="s"><span class="z">银行</span>ETF<span class="z">南方</span></span></div><div class="c n n2" style="width:117px"><span class="s">-1.45</span></div><div class="c n n3" style="width:117px"><span class="s">2.87</span></div><div class="c n n4" style="width:116px"><span class="s">12.29</span></div><div class="c n n5" style="width:117px"><span class="s">-2.42</span></div></div>
<div class="r u b" style="top:2100px;height:27px;padding-top:1px"><div class="c t" style="width:118px"><span class="s">159713.SZ</span></div><div class="c t t2" style="width:249px"><span class="s"><span class="z">稀土</span>ETF</span></div><div class="c n n2" style="width:117px"><span class="s">-1.87</span></div><div class="c n n3" style="width:117px"><span class="s">-1.58</span></div><div class="c n n4" style="width:116px"><span class="s">7.30</span></div><div class="c n n5" style="width:117px"><span class="s">-2.41</span></div></div>
<div class="r u" style="top:2127px;height:27px"><div class="c t" style="width:118px"><span class="s">512200.SH</span></div><div class="c t t2" style="width:249px"><span class="s"><span class="z">房地产</span>ETF</span></div><div class="c n n2" style="width:117px"><span class="s">-1.38</span></div><div class="c n n3" style="width:117px"><span class="s">-0.50</span></div><div class="c n n4" style="width:116px"><span class="s">7.24</span></div><div class="c n n5" style="width:117px"><span class="s">-2.20</span></div></div>
<div class="r u b" style="top:2153px;height:27px;padding-top:1px"><div class="c t" style="width:118px"><span class="s">159766.SZ</span></div><div class="c t t2" style="width:249px"><span class="s"><span class="z">旅游</span>ETF</span></div><div class="c n n2" style="width:117px"><span class="s">-2.84</span></div><div class="c n n3" style="width:117px"><span class="s">2.32</span></div><div class="c n n4" style="width:116px"><span class="s">10.50</span></div><div class="c n n5" style="width:117px"><span class="s">-2.12</span></div></div>
<div class="r u" style="top:2180px;height:27px"><div class="c t" style="width:118px"><span class="s">588170.SH</span></div><div class="c t t2" style="width:249px"><span class="s"><span class="z">科创半导体</span>ETF</span></div><div class="c n n2" style="width:117px"><span class="s">-1.32</span></div><div class="c n n3" style="width:117px"><span class="s">3.75</span></div><div class="c n n4" style="width:116px"><span class="s">22.14</span></div><div class="c n n5" style="width:117px"><span class="s">-1.96</span></div></div>
<div class="r u b" style="top:2206px;height:27px;padding-top:1px"><div class="c t" style="width:118px"><span class="s">516780.SH</span></div><div class="c t t2" style="width:249px"><span class="s"><span class="z">稀土</span>ETF</span></div><div class="c n n2" style="width:117px"><span class="s">-1.12</span></div><div class="c n n3" style="width:117px"><span class="s">-1.68</span></div><div class="c n n4" style="width:116px"><span class="s">7.95</span></div><div class="c n n5" style="width:117px"><span class="s">-1.96</span></div></div>
<div class="r u" style="top:2233px;height:27px"><div class="c t" style="width:118px"><span class="s">561910.SH</span></div><div class="c t t2" style="width:249px"><span class="s"><span class="z">电池</span>ETF</span></div><div class="c n n2" style="width:117px"><span class="s">-2.21</span></div><div class="c n n3" style="width:117px"><span class="s">3.44</span></div><div class="c n n4" style="width:116px"><span class="s">22.10</span></div><div class="c n n5" style="width:117px"><span class="s">-1.94</span></div></div>
<div class="r u b" style="top:2259px;height:27px;padding-top:1px"><div class="c t" style="width:118px"><span class="s">159796.SZ</span></div><div class="c t t2" style="width:249px"><span class="s"><span class="z">电池</span>50ETF</span></div><div class="c n n2" style="width:117px"><span class="s">-1.44</span></div><div class="c n n3" style="width:117px"><span class="s">3.41</span></div><div class="c n n4" style="width:116px"><span class="s">33.33</span></div><div class="c n n5" style="width:117px"><span class="s">-1.47</span></div></div>
<div class="r u" style="top:2286px;height:26px"><div class="c t" style="width:118px"><span class="s">561160.SH</span></div><div class="c t t2" style="width:249px"><span class="s"><span class="z">锂电池</span>ETF</span></div><div class="c n n2" style="width:117px"><span class="s">-1.62</span></div><div class="c n n3" style="width:117px"><span class="s">3.44</span></div><div class="c n n4" style="width:116px"><span class="s">7.39</span></div><div class="c n n5" style="width:117px"><span class="s">-1.41</span></div></div>
<div class="r u b" style="top:2311px;height:28px;padding-top:1px"><div class="c t" style="width:118px"><span class="s">562880.SH</span></div><div class="c t t2" style="width:249px"><span class="s"><span class="z">电池</span>ETF<span class="z">嘉实</span></span></div><div class="c n n2" style="width:117px"><span class="s">-1.58</span></div><div class="c n n3" style="width:117px"><span class="s">3.48</span></div><div class="c n n4" style="width:116px"><span class="s">4.24</span></div><div class="c n n5" style="width:117px"><span class="s">-1.39</span></div></div>
<div class="r u" style="top:2339px;height:26px"><div class="c t" style="width:118px"><span class="s">159840.SZ</span></div><div class="c t t2" style="width:249px"><span class="s"><span class="z">锂电池</span>ETF</span></div><div class="c n n2" style="width:117px"><span class="s">-1.46</span></div><div class="c n n3" style="width:117px"><span class="s">1.13</span></div><div class="c n n4" style="width:116px"><span class="s">9.18</span></div><div class="c n n5" style="width:117px"><span class="s">-1.27</span></div></div>
<div class="r u b" style="top:2364px;height:28px;padding-top:1px"><div class="c t" style="width:118px"><span class="s">159122.SZ</span></div><div class="c t t2" style="width:249px"><span class="s"><span class="z">创业板新能源</span>ETF<span class="z">富国</span></span></div><div class="c n n2" style="width:117px"><span class="s">-2.12</span></div><div class="c n n3" style="width:117px"><span class="s">2.38</span></div><div class="c n n4" style="width:116px"><span class="s">3.05</span></div><div class="c n n5" style="width:117px"><span class="s">-1.22</span></div></div>
<div class="r u" style="top:2392px;height:26px"><div class="c t" style="width:118px"><span class="s">588710.SH</span></div><div class="c t t2" style="width:249px"><span class="s"><span class="z">科创半导体设备</span>ETF</span></div><div class="c n n2" style="width:117px"><span class="s">-0.82</span></div><div class="c n n3" style="width:117px"><span class="s">3.85</span></div><div class="c n n4" style="width:116px"><span class="s">6.90</span></div><div class="c n n5" style="width:117px"><span class="s">-1.21</span></div></div>
<div class="r u b" style="top:2417px;height:28px;padding-top:1px"><div class="c t" style="width:118px"><span class="s">512720.SH</span></div><div class="c t t2" style="width:249px"><span class="s"><span class="z">计算机</span>ETF</span></div><div class="c n n2" style="width:117px"><span class="s">-0.96</span></div><div class="c n n3" style="width:117px"><span class="s">-2.85</span></div><div class="c n n4" style="width:116px"><span class="s">2.74</span></div><div class="c n n5" style="width:117px"><span class="s">-1.21</span></div></div>
<div class="r u" style="top:2445px;height:26px"><div class="c t" style="width:118px"><span class="s">589960.SH</span></div><div class="c t t2" style="width:249px"><span class="s"><span class="z">科创新能源</span>ETF<span class="z">易方达</span></span></div><div class="c n n2" style="width:117px"><span class="s">-1.11</span></div><div class="c n n3" style="width:117px"><span class="s">5.77</span></div><div class="c n n4" style="width:116px"><span class="s">2.73</span></div><div class="c n n5" style="width:117px"><span class="s">-1.19</span></div></div>
<div class="r u b" style="top:2470px;height:28px;padding-top:1px"><div class="c t" style="width:118px"><span class="s">516970.SH</span></div><div class="c t t2" style="width:249px"><span class="s"><span class="z">基建</span>50ETF</span></div><div class="c n n2" style="width:117px"><span class="s">-0.93</span></div><div class="c n n3" style="width:117px"><span class="s">1.67</span></div><div class="c n n4" style="width:116px"><span class="s">2.71</span></div><div class="c n n5" style="width:117px"><span class="s">-1.12</span></div></div>
<div class="r u" style="top:2498px;height:26px"><div class="c t" style="width:118px"><span class="s">159667.SZ</span></div><div class="c t t2" style="width:249px"><span class="s"><span class="z">工业母机</span>ETF</span></div><div class="c n n2" style="width:117px"><span class="s">-0.69</span></div><div class="c n n3" style="width:117px"><span class="s">-1.37</span></div><div class="c n n4" style="width:116px"><span class="s">4.54</span></div><div class="c n n5" style="width:117px"><span class="s">-1.03</span></div></div>
<div class="r u b" style="top:2523px;height:28px;padding-top:1px"><div class="c t" style="width:118px"><span class="s">515170.SH</span></div><div class="c t t2" style="width:249px"><span class="s"><span class="z">食品饮料</span>ETF</span></div><div class="c n n2" style="width:117px"><span class="s">-1.80</span></div><div class="c n n3" style="width:117px"><span class="s">-1.39</span></div><div class="c n n4" style="width:116px"><span class="s">8.08</span></div><div class="c n n5" style="width:117px"><span class="s">-1.03</span></div></div>
<div class="r u" style="top:2551px;height:26px"><div class="c t" style="width:118px"><span class="s">515700.SH</span></div><div class="c t t2" style="width:249px"><span class="s"><span class="z">新能车</span>ETF</span></div><div class="c n n2" style="width:117px"><span class="s">-0.41</span></div><div class="c n n3" style="width:117px"><span class="s">0.79</span></div><div class="c n n4" style="width:116px"><span class="s">4.88</span></div><div class="c n n5" style="width:117px"><span class="s">-1.02</span></div></div>
<div class="mk" style="left:827px;top:1546px"></div><div class="bl"></div><div class="mk" style="left:827px;top:2570px;border-bottom-color:#4a6ec4"></div>
</body></html>
